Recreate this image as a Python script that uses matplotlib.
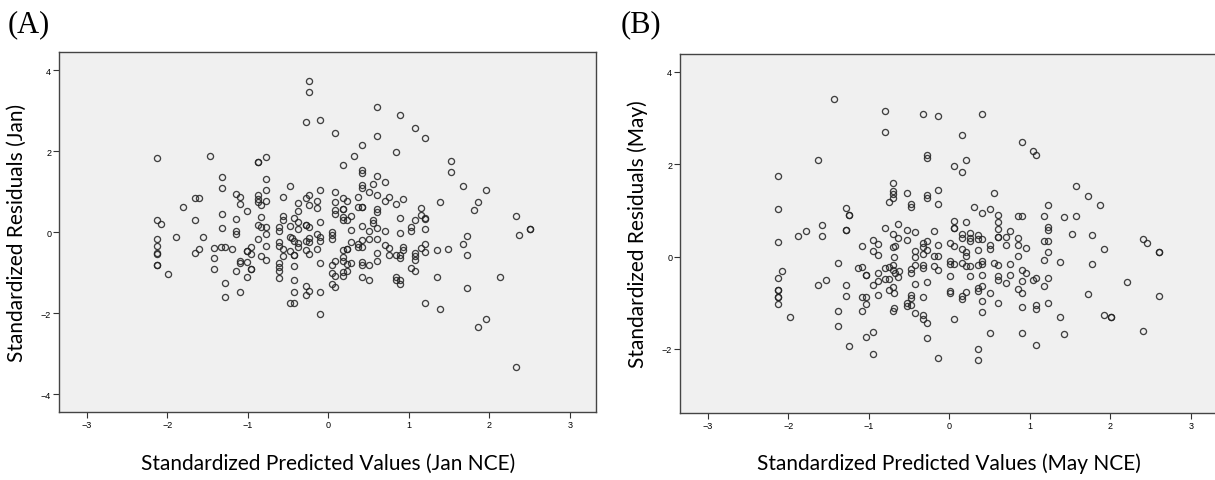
import numpy as np
import matplotlib.pyplot as plt

# (A) January: standardized predicted value vs standardized residual
jan_pred = [
    -2.125, -2.125, -2.125, -2.125, -2.125, -2.125, -2.125, -2.125,
    -2.075, -1.99, -1.89, -1.80, -1.66, -1.66, -1.655, -1.61, -1.61, -1.56, -1.47,
    -1.42, -1.42, -1.42, -1.325, -1.325, -1.325, -1.325, -1.33,
    -1.28, -1.28, -1.28, -1.19,
    -1.14, -1.14, -1.14, -1.14, -1.14,
    -1.10, -1.10, -1.10, -1.10, -1.10,
    -1.01, -1.01, -1.01, -1.01, -1.01,
    -0.96, -0.96, -0.96, -0.96,
    -0.867, -0.867, -0.867, -0.867, -0.867, -0.867, -0.867,
    -0.83, -0.83, -0.83, -0.83,
    -0.77, -0.77, -0.77, -0.77, -0.77, -0.77, -0.77, -0.77,
    -0.61, -0.61, -0.61, -0.61, -0.61, -0.61, -0.61, -0.61,
    -0.56, -0.56, -0.56, -0.56, -0.56,
    -0.47, -0.47, -0.47, -0.47, -0.47, -0.45,
    -0.43, -0.43, -0.43, -0.43, -0.43, -0.43, -0.43, -0.43,
    -0.38, -0.38, -0.38, -0.38, -0.38, -0.38,
    -0.28, -0.28, -0.28, -0.28, -0.28, -0.28, -0.28, -0.28,
    -0.235, -0.235, -0.235, -0.235, -0.235, -0.235, -0.235, -0.235, -0.235,
    -0.145, -0.145, -0.145, -0.145,
    -0.10, -0.10, -0.10, -0.10, -0.10, -0.10, -0.10, -0.10,
    0.046, 0.046, 0.046, 0.046, 0.046, 0.046,
    0.09, 0.09, 0.09, 0.09, 0.09, 0.09, 0.09, 0.09,
    0.18, 0.18, 0.18, 0.18, 0.18, 0.18, 0.18, 0.18, 0.18, 0.18, 0.18,
    0.23, 0.23, 0.23, 0.23, 0.23, 0.23,
    0.28, 0.28, 0.28, 0.28, 0.325,
    0.37, 0.37, 0.37, 0.37,
    0.42, 0.42, 0.42, 0.42, 0.42, 0.42, 0.42, 0.42, 0.42, 0.42, 0.42, 0.42, 0.42,
    0.51, 0.51, 0.51, 0.51, 0.51,
    0.56, 0.56, 0.56,
    0.61, 0.61, 0.61, 0.61, 0.61, 0.61, 0.61, 0.61, 0.61, 0.61,
    0.70, 0.70, 0.70, 0.70,
    0.75, 0.75, 0.75,
    0.84, 0.84, 0.84, 0.84, 0.84,
    0.89, 0.89, 0.89, 0.89, 0.89, 0.89, 0.89,
    0.935, 0.935, 0.935,
    1.03, 1.03, 1.03,
    1.08, 1.08, 1.08, 1.08, 1.08, 1.08,
    1.156, 1.156, 1.156,
    1.205, 1.205, 1.205, 1.205, 1.205, 1.205, 1.205,
    1.35, 1.35, 1.39, 1.39, 1.49, 1.53, 1.53,
    1.67, 1.67, 1.72, 1.72, 1.72, 1.81, 1.86, 1.86,
    1.955, 1.955, 2.14, 2.33, 2.33, 2.37, 2.51, 2.51,
]
jan_resid = [
    1.83, 0.30, -0.16, -0.35, -0.52, -0.53, -0.80, -0.81,
    0.205, -1.04, -0.12, 0.63, 0.85, -0.52, 0.30, 0.85, -0.41, -0.13, 1.88,
    -0.38, -0.64, -0.91, 1.365, 1.09, 0.46, 0.10, -0.36,
    -0.36, -1.25, -1.61, -0.41,
    0.95, 0.32, 0.04, -0.05, -0.95,
    0.88, 0.70, -0.70, -0.77, -1.47,
    0.53, -0.47, -0.47, -0.74, -1.10,
    -0.36, -0.53, -0.91, -0.91,
    1.74, 1.74, 0.93, 0.82, 0.74, 0.19, -0.17,
    0.66, 0.385, 0.12, -0.60,
    1.85, 1.31, 1.03, 0.77, 0.12, -0.04, -0.33, -0.68,
    0.14, 0.04, -0.23, -0.33, -0.77, -0.86, -0.97, -1.14,
    0.86, 0.39, 0.31, -0.41, -0.59,
    1.15, 0.15, -0.12, -0.47, -1.75, -0.14,
    0.35, -0.21, -0.56, -0.56, -0.83, -1.19, -1.47, -1.75,
    0.72, 0.53, 0.26, 0.08, -0.27, -0.36,
    2.72, 0.84, 0.19, 0.19, -0.22, -0.45, -1.33, -1.54,
    3.74, 3.46, 0.93, 0.66, 0.12, -0.14, -0.24, -0.53, -1.44,
    0.77, 0.59, -0.04, -0.41,
    2.77, 1.04, 0.25, -0.12, -0.22, -0.76, -1.48, -2.03,
    0.0, -0.08, -0.17, -0.81, -1.00, -1.28,
    2.44, 1.00, 0.74, 0.55, 0.45, -0.72, -1.07, -1.36,
    1.65, 0.84, 0.575, 0.575, 0.385, 0.30, -0.43, -0.62, -0.72, -0.99, -1.07,
    0.76, 0.30, -0.41, -0.41, -0.78, -0.97,
    0.41, 0.06, -0.23, -0.76, 1.87,
    0.88, 0.62, -0.29, -0.37,
    2.16, 1.54, 1.46, 1.17, 1.09, 0.62, 0.62, 0.16, -0.20, -0.37, -0.74, -0.80, -1.10,
    1.00, 0.02, -0.17, -0.81, -1.18,
    1.19, 0.30, 0.22,
    3.10, 2.38, 1.38, 0.93, 0.575, 0.50, 0.11, -0.17, -0.52, -0.70,
    1.23, 0.78, 0.04, -0.31,
    0.88, -0.40, -0.57,
    1.975, 0.70, -0.56, -1.10, -1.19,
    2.89, 0.35, -0.02, -0.56, -0.64, -1.18, -1.28,
    0.81, -0.36, -0.44,
    0.12, 0.04, -0.89,
    2.575, 0.31, -0.51, -0.60, -0.68, -0.97,
    0.60, 0.42, -0.40,
    2.33, 0.34, 0.32, 0.07, -0.30, -0.49, -1.76,
    -0.45, -1.10, 0.74, -1.89, -0.42, 1.76, 1.49,
    1.15, -0.29, -0.10, -0.56, -1.375, 0.55, 0.75, -2.35,
    1.04, -2.14, -1.10, 0.39, -3.33, -0.06, 0.07, 0.07,
]

# (B) May
may_pred = [
    -2.125, -2.125, -2.125, -2.125, -2.125, -2.125, -2.125, -2.125, -2.125,
    -2.075, -1.98, -1.88, -1.78, -1.63, -1.63, -1.58, -1.58, -1.53, -1.435,
    -1.385, -1.385, -1.385,
    -1.285, -1.285, -1.285, -1.285, -1.285, -1.24, -1.24, -1.24,
    -1.137, -1.087, -1.087, -1.087, -1.087,
    -1.037, -1.037, -1.037, -1.037, -1.037,
    -0.945, -0.945, -0.945, -0.945, -0.945,
    -0.89, -0.89, -0.89, -0.89, -0.89,
    -0.796, -0.796, -0.796, -0.796, -0.796,
    -0.746, -0.746, -0.746, -0.746,
    -0.696, -0.696, -0.696, -0.696, -0.696, -0.696, -0.696, -0.696, -0.696, -0.696,
    -0.67, -0.67, -0.68, -0.68, -0.68,
    -0.63, -0.63, -0.63, -0.62,
    -0.53, -0.53, -0.53, -0.53, -0.53,
    -0.48, -0.48, -0.48, -0.48, -0.48, -0.48, -0.48,
    -0.43, -0.43, -0.43, -0.43, -0.43, -0.43,
    -0.33, -0.33, -0.33, -0.33, -0.33, -0.33, -0.33, -0.33, -0.33,
    -0.28, -0.28, -0.28, -0.28, -0.28, -0.28, -0.28, -0.28, -0.28,
    -0.185, -0.185, -0.185,
    -0.136, -0.136, -0.136, -0.136, -0.136, -0.136, -0.136,
    0.01, 0.01, 0.01, 0.01, 0.01, 0.01,
    0.063, 0.063, 0.063, 0.063, 0.063, 0.063, 0.063,
    0.158, 0.158, 0.158, 0.158, 0.158, 0.158, 0.158, 0.158,
    0.208, 0.208, 0.208, 0.208, 0.208, 0.208,
    0.258, 0.258, 0.258, 0.258, 0.258, 0.307,
    0.357, 0.357, 0.357, 0.357, 0.357, 0.357, 0.357, 0.357,
    0.407, 0.407, 0.407, 0.407, 0.407, 0.407, 0.407, 0.407, 0.407,
    0.503, 0.503, 0.503, 0.503, 0.503, 0.553, 0.553,
    0.603, 0.603, 0.603, 0.603, 0.603, 0.603, 0.603, 0.603, 0.603,
    0.70, 0.70, 0.70, 0.75, 0.75, 0.75,
    0.85, 0.85, 0.85, 0.85, 0.85,
    0.90, 0.90, 0.90, 0.90, 0.90, 0.90, 0.90,
    0.95, 0.95, 1.04, 1.04,
    1.08, 1.08, 1.08, 1.08, 1.08,
    1.18, 1.18, 1.18, 1.18,
    1.23, 1.23, 1.23, 1.23, 1.23, 1.23, 1.23,
    1.375, 1.375, 1.42, 1.42, 1.52, 1.575, 1.575,
    1.72, 1.72, 1.77, 1.77, 1.87, 1.92, 1.92, 2.01, 2.01,
    2.21, 2.41, 2.41, 2.46, 2.60, 2.60, 2.60,
]
may_resid = [
    1.75, 1.03, 0.31, -0.47, -0.72, -0.72, -0.87, -0.87, -1.02,
    -0.31, -1.32, 0.455, 0.56, 2.10, -0.61, 0.68, 0.44, -0.505, 3.41,
    -0.15, -1.18, -1.50,
    1.06, 0.585, 0.585, -0.61, -0.845, 0.91, 0.91, -1.94,
    -0.25, 0.23, -0.23, -0.87, -1.19,
    -0.40, -0.40, -0.87, -1.03, -1.75,
    0.35, 0.12, -0.61, -1.64, -2.12,
    0.28, 0.04, -0.36, -0.52, -0.84,
    3.16, 2.69, 0.61, -0.24, -0.48,
    1.19, -0.22, -0.48, -0.72,
    1.60, 1.43, 1.35, 1.27, 0.49, 0.20, -0.19, -0.30, -0.65, -1.19,
    0.22, -0.35, -0.01, -0.80, -1.11,
    0.71, 0.40, -0.45, -0.32,
    1.37, 0.58, 0.35, -1.01, -1.08,
    1.14, 1.07, -0.27, -0.35, -0.83, -0.90, -1.06,
    0.53, 0.12, -0.01, -0.19, -0.59, -1.23,
    3.08, 0.30, 0.20, 0.05, -0.18, -0.25, -0.88, -1.27, -1.35,
    2.21, 2.14, 1.34, 1.27, 0.33, 0.15, -0.56, -1.43, -1.76,
    0.56, 0.02, -0.21,
    3.05, 1.45, 1.14, 0.26, 0.02, -0.29, -2.20,
    0.30, -0.09, -0.16, -0.42, -0.74, -0.80,
    1.97, 0.78, 0.62, 0.62, 0.22, -0.16, -1.36,
    2.64, 1.84, 0.49, 0.41, 0.17, -0.14, -0.86, -0.93,
    2.09, 0.75, 0.09, 0.02, -0.21, -0.77,
    0.51, 0.41, 0.34, -0.20, -0.43, 1.084,
    0.46, 0.38, 0.14, -0.18, -0.68, -0.74, -2.01, -2.24,
    3.09, 0.94, 0.38, -0.09, -0.16, -0.40, -0.64, -0.96, -1.21,
    1.04, 0.25, 0.16, -0.79, -1.66, 1.37, -0.14,
    0.91, 0.76, 0.59, 0.43, 0.43, -0.19, -0.43, -0.50, -1.00,
    0.43, 0.24, -0.58, 0.56, -0.17, -0.40,
    0.89, 0.41, 0.24, 0.005, -0.70,
    2.48, 0.89, -0.30, -0.53, -0.78, -1.09, -1.65,
    0.19, -0.36, 2.28, -0.50,
    2.21, -0.47, -1.06, -1.13, -1.92,
    0.88, 0.33, -0.07, -0.63,
    1.12, 0.65, 0.58, 0.33, 0.095, -0.455, -1.01,
    -0.11, -1.30, 0.86, -1.68, 0.485, 1.525, 0.89,
    1.32, -0.82, 0.46, -0.17, 1.11, 0.17, -1.26, -1.31, -1.31,
    -0.555, 0.37, -1.62, 0.30, 0.095, 0.095, -0.86,
]

x_ticks = [-3, -2, -1, 0, 1, 2, 3]
W, H = 1215, 481


def add_panel(fig, box, pred, resid, ylim, yticks, ylabel, xlabel, tag, tag_x):
    left, top, right, bottom = box
    ax = fig.add_axes([left / W, 1 - bottom / H, (right - left) / W, (bottom - top) / H])
    ax.set_facecolor('#f0f0f0')
    ax.plot(pred, resid, ls='none', marker='o', ms=4.4, mfc='none',
            mec='#222222', mew=0.95, alpha=0.85)
    ax.set_xlim(-3.34, 3.33)
    ax.set_ylim(*ylim)
    ax.set_xticks(x_ticks)
    ax.set_yticks(yticks)
    ax.tick_params(direction='out', length=4.3, width=0.8, color='#333333',
                   labelsize=6.5, pad=1.5)
    for lab in ax.get_xticklabels() + ax.get_yticklabels():
        lab.set_family('Liberation Sans')
    for sp in ax.spines.values():
        sp.set_color('#444444')
        sp.set_linewidth(1.0)
    ax.set_xlabel(xlabel, family='Lato', fontsize=15, va='center')
    ax.set_ylabel(ylabel, family='Lato', fontsize=15, va='center')
    ax.xaxis.set_label_coords(0.5, (bottom - 464) / (bottom - top))
    ax.yaxis.set_label_coords((17 - 59.3) / (right - left), 0.5)
    fig.text(tag_x / W, 1 - 32 / H, tag, family='Liberation Serif', fontsize=22,
             ha='left', va='baseline')
    return ax


fig = plt.figure(figsize=(W / 100, H / 100), dpi=100)
add_panel(fig, (59.3, 53, 596.3, 413), jan_pred, jan_resid, (-4.44, 4.45),
          [-4, -2, 0, 2, 4], 'Standardized Residuals (Jan)',
          'Standardized Predicted Values (Jan NCE)', '(A)', 8)
add_panel(fig, (680.3, 55, 1217.3, 414), may_pred, may_resid, (-3.39, 4.39),
          [-2, 0, 2, 4], 'Standardized Residuals (May)',
          'Standardized Predicted Values (May NCE)', '(B)', 621)

fig.savefig('out.png', dpi=100)
